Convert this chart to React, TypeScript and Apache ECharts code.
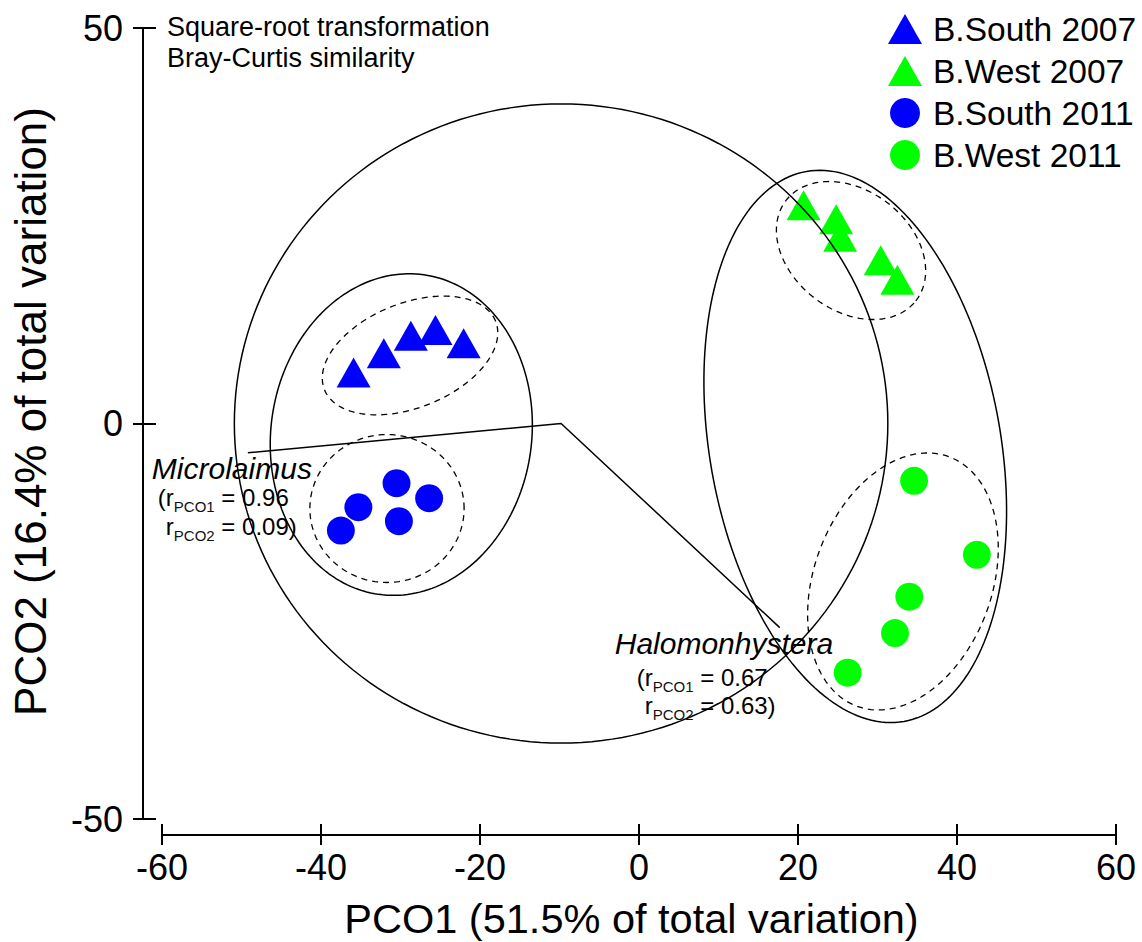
import React, { useEffect, useRef } from 'react';
import * as echarts from 'echarts';

const FONT = "'Liberation Sans', Arial, Helvetica, sans-serif";

// axis ticks
const xMin = -60, xMax = 60, xStep = 20;
const yMin = -50, yMax = 50, yStep = 50;
const xTitle = 'PCO1 (51.5% of total variation)';
const yTitle = 'PCO2 (16.4% of total variation)';

// groups
const seriesNames = ['B.South 2007', 'B.West 2007', 'B.South 2011', 'B.West 2011'];
const southTriangles2007 = [[-35.9, 6.45], [-32.1, 8.87], [-28.7, 11.09], [-25.6, 11.82], [-22.06, 10.14]];
const westTriangles2007 = [[20.7, 27.6], [24.8, 25.83], [25.3, 23.6], [30.4, 20.64], [32.5, 18.18]];
const southCircles2011 = [[-30.5, -7.55], [-26.4, -9.44], [-35.3, -10.58], [-30.2, -12.35], [-37.5, -13.53]];
const westCircles2011 = [[34.6, -7.25], [42.5, -16.6], [34.0, -21.9], [32.2, -26.5], [26.25, -31.5]];

// ellipses: [centre x, centre y, semi-axis a, semi-axis b, angle deg]
const solidEllipses = [
  [-9.8, 0, 41.1, 40.4, 0],
  [-29.9, -1.4, 20.4, 16.4, 82],
  [27.2, -2.9, 35.3, 18.3, 100],
];
const dashedEllipses = [
  [-28.8, 8.6, 11.6, 6.6, 22],
  [-31.7, -10.75, 9.7, 9.35, 0],
  [26.67, 21.87, 10.34, 7.57, -38],
  [33.2, -19.97, 16.8, 11.2, 70],
];

// vector overlay
const vectorOrigin = [-9.8, 0];
const vectorEnds = [[-49.2, -3.7], [17.7, -25.8]];
const vectorNames = ['Microlaimus', 'Halomonhystera'];
const vectorR1 = ['0.96', '0.67'];
const vectorR2 = ['0.09', '0.63'];

const noteLines = ['Square-root transformation', 'Bray-Curtis similarity'];

// label offsets (px) relative to vector ends
const labelLayout = [
  { tdx: -96, tdy: 15.5, rdx: -82, rdy: 44.5, gap: 29 },
  { tdx: -165, tdy: 16, rdx: -135, rdy: 50, gap: 28 },
];

const BLUE = '#0000ff';
const GREEN = '#00ff00';

let measureCtx: CanvasRenderingContext2D | null = null;
function measure(txt: string, size: number, italic = false) {
  if (!measureCtx) measureCtx = document.createElement('canvas').getContext('2d');
  measureCtx!.font = `${italic ? 'italic ' : ''}${size}px ${FONT}`;
  return measureCtx!.measureText(txt).width;
}

function ellipseRenderer(dashed: boolean) {
  return (params: any, api: any) => {
    const cx = api.value(0), cy = api.value(1), a = api.value(2), b = api.value(3);
    const ang = (api.value(4) * Math.PI) / 180;
    const pts: number[][] = [];
    const n = 200;
    for (let i = 0; i <= n; i++) {
      const t = (i / n) * Math.PI * 2;
      const dx = a * Math.cos(t), dy = b * Math.sin(t);
      pts.push(api.coord([cx + dx * Math.cos(ang) - dy * Math.sin(ang), cy + dx * Math.sin(ang) + dy * Math.cos(ang)]));
    }
    return {
      type: 'polyline',
      shape: { points: pts },
      silent: true,
      style: { fill: null, stroke: '#000', lineWidth: dashed ? 1.3 : 1.5, lineDash: dashed ? [6, 5] : null },
    };
  };
}

function subLine(x: number, y: number, pre: string, sub: string, post: string) {
  const big = 24, small = 15;
  const els: any[] = [];
  let cx = x;
  els.push({ type: 'text', x: cx, y, style: { text: pre, font: `${big}px ${FONT}`, fill: '#000', align: 'left', verticalAlign: 'middle' } });
  cx += measure(pre, big);
  els.push({ type: 'text', x: cx, y: y + 9, style: { text: sub, font: `${small}px ${FONT}`, fill: '#111', align: 'left', verticalAlign: 'middle' } });
  cx += measure(sub, small);
  els.push({ type: 'text', x: cx, y, style: { text: post, font: `${big}px ${FONT}`, fill: '#000', align: 'left', verticalAlign: 'middle' } });
  return els;
}

export default function App() {
  const ref = useRef<HTMLDivElement>(null);
  useEffect(() => {
    document.body.style.margin = '0';
    const chart = echarts.init(ref.current!, null, { renderer: 'svg' });
    const axisCommon = { type: 'value', splitLine: { show: false } };
    const option: any = {
      animation: false,
      backgroundColor: '#fff',
      textStyle: { fontFamily: FONT },
      grid: [
        { left: 162, right: 26, top: 28, bottom: 123, outerBoundsMode: 'none' },
        { left: 162, right: 26, top: 28, bottom: 123, outerBoundsMode: 'none' },
      ],
      xAxis: [
        {
          ...axisCommon, gridIndex: 0, min: xMin, max: xMax, interval: xStep, position: 'bottom', offset: 16,
          axisLine: { show: true, onZero: false, lineStyle: { color: '#000', width: 2 } },
          axisTick: { show: true, length: 10, lineStyle: { color: '#000', width: 2 } },
          axisLabel: { fontSize: 36, color: '#000', fontFamily: FONT, margin: 14 },
          name: xTitle, nameLocation: 'middle', nameGap: 62,
          nameTextStyle: { fontSize: 41.5, color: '#000', fontFamily: FONT, padding: [0, 15, 0, 0] },
        },
        {
          ...axisCommon, gridIndex: 1, min: xMin, max: xMax, interval: xStep, position: 'bottom', offset: 16,
          axisLine: { show: false, onZero: false }, axisLabel: { show: false },
          axisTick: { show: true, inside: true, length: 11, lineStyle: { color: '#000', width: 2 } },
        },
      ],
      yAxis: [
        {
          ...axisCommon, gridIndex: 0, min: yMin, max: yMax, interval: yStep, position: 'left', offset: 19,
          axisLine: { show: true, onZero: false, lineStyle: { color: '#000', width: 2 } },
          axisTick: { show: true, length: 10, lineStyle: { color: '#000', width: 2 } },
          axisLabel: { fontSize: 36, color: '#000', fontFamily: FONT, margin: 20 },
          name: yTitle, nameLocation: 'middle', nameGap: 91,
          nameTextStyle: { fontSize: 44, color: '#000', fontFamily: FONT, padding: [0, 0, 0, 24] },
        },
        {
          ...axisCommon, gridIndex: 1, min: yMin, max: yMax, interval: yStep, position: 'left', offset: 19,
          axisLine: { show: false, onZero: false }, axisLabel: { show: false },
          axisTick: { show: true, inside: true, length: 13, lineStyle: { color: '#000', width: 2 } },
        },
      ],
      legend: {
        orient: 'vertical', left: 883, top: 7, itemWidth: 34, itemHeight: 30, itemGap: 8,
        textStyle: { fontSize: 33.5, color: '#000', fontFamily: FONT, padding: [0, 0, 0, 6] },
        data: [
          { name: seriesNames[0], icon: 'triangle' },
          { name: seriesNames[1], icon: 'triangle' },
          { name: seriesNames[2], icon: 'circle' },
          { name: seriesNames[3], icon: 'circle' },
        ],
      },
      series: [
        { name: seriesNames[0], type: 'scatter', symbol: 'triangle', symbolSize: [34, 30], data: southTriangles2007, itemStyle: { color: BLUE, opacity: 1 }, z: 2 },
        { name: seriesNames[1], type: 'scatter', symbol: 'triangle', symbolSize: [34, 30], data: westTriangles2007, itemStyle: { color: GREEN, opacity: 1 }, z: 2 },
        { name: seriesNames[2], type: 'scatter', symbol: 'circle', symbolSize: 28, data: southCircles2011, itemStyle: { color: BLUE, opacity: 1 }, z: 2 },
        { name: seriesNames[3], type: 'scatter', symbol: 'circle', symbolSize: 28, data: westCircles2011, itemStyle: { color: GREEN, opacity: 1 }, z: 2 },
        {
          name: 'vectors', type: 'line', data: [vectorEnds[0], vectorOrigin, vectorEnds[1]],
          symbol: 'none', lineStyle: { color: '#000', width: 1.5 }, z: 5, silent: true,
        },
        { name: 'solid', type: 'custom', renderItem: ellipseRenderer(false), data: solidEllipses, clip: false, z: 4, silent: true, encode: { x: 0, y: 1 } },
        { name: 'dashed', type: 'custom', renderItem: ellipseRenderer(true), data: dashedEllipses, clip: false, z: 4, silent: true, encode: { x: 0, y: 1 } },
      ],
    };
    chart.setOption(option);

    const graphics: any[] = [];
    noteLines.forEach((t, i) => {
      graphics.push({ type: 'text', x: 167, y: 26.5 + i * 31.5, style: { text: t, font: `27px ${FONT}`, fill: '#000', align: 'left', verticalAlign: 'middle' } });
    });
    vectorEnds.forEach((end, i) => {
      const p = chart.convertToPixel({ gridIndex: 0 }, end) as number[];
      const L = labelLayout[i];
      graphics.push({ type: 'text', x: p[0] + L.tdx, y: p[1] + L.tdy, style: { text: vectorNames[i], font: `italic 30px ${FONT}`, fill: '#000', align: 'left', verticalAlign: 'middle' } });
      const rx = p[0] + L.rdx - measure('(', 24);
      graphics.push(...subLine(rx, p[1] + L.rdy, '(r', 'PCO1', ` = ${vectorR1[i]}`));
      graphics.push(...subLine(p[0] + L.rdx, p[1] + L.rdy + L.gap, 'r', 'PCO2', ` = ${vectorR2[i]})`));
    });
    chart.setOption({ graphic: graphics });

    return () => chart.dispose();
  }, []);
  return <div ref={ref} style={{ width: 1142, height: 942 }} />;
}
